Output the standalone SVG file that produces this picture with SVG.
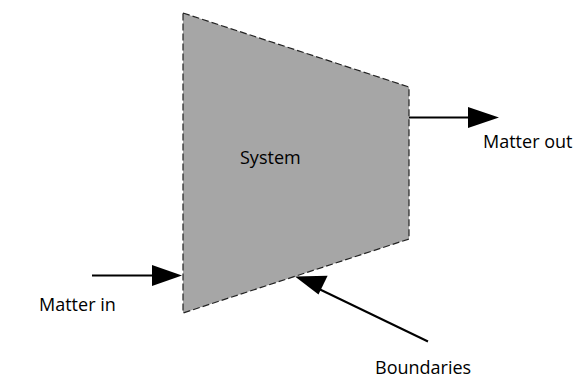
<svg xmlns="http://www.w3.org/2000/svg" width="576" height="378" viewBox="0 0 576 378">
  <style>
    .label { font-family: "Open Sans", "Liberation Sans", sans-serif; font-size: 18px; fill: #000; }
    .arrow { stroke: #000; stroke-width: 2; fill: none; }
    .head { fill: #000; stroke: none; }
  </style>
  <rect width="576" height="378" fill="#fff"/>
  <g id="system">
    <polygon points="183,13 409,87 409,239 183,313" fill="#a6a6a6" stroke="#222" stroke-width="1.2" stroke-dasharray="7,3"/>
    <text class="label" x="240" y="164">System</text>
  </g>
  <g id="connectors">
    <line class="arrow" x1="92" y1="275.5" x2="155" y2="275.5"/>
    <polygon class="head" points="182,275.5 152,265 152,286"/>
    <line class="arrow" x1="409" y1="117.5" x2="472" y2="117.5"/>
    <polygon class="head" points="499,117.5 468,107 468,128"/>
    <line class="arrow" x1="428" y1="341.5" x2="318" y2="288.5"/>
    <polygon class="head" points="295,276.5 327.6,275.7 318.5,294.6"/>
  </g>
  <g id="matter-in">
    <text class="label" x="39" y="311">Matter in</text>
  </g>
  <g id="matter-out">
    <text class="label" x="483" y="148">Matter out</text>
  </g>
  <g id="boundaries">
    <text class="label" x="375" y="374">Boundaries</text>
  </g>
</svg>
